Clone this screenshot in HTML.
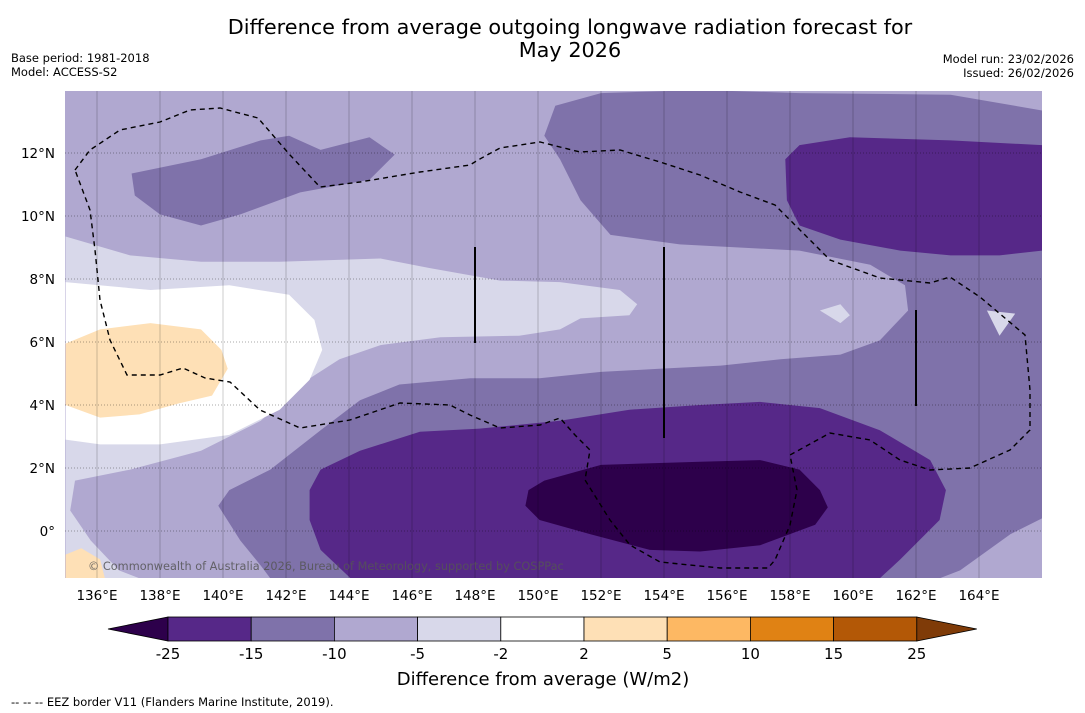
<!DOCTYPE html>
<html><head><meta charset="utf-8"><style>
body{margin:0;background:#fff;width:1085px;height:713px;overflow:hidden;font-family:"DejaVu Sans","Liberation Sans",sans-serif}
svg{position:absolute;left:0;top:0}
</style></head><body>
<svg id="c" width="1085" height="713" viewBox="0 0 1085 713">
<text x="570" y="34" text-anchor="middle" font-size="20.8">Difference from average outgoing longwave radiation forecast for</text>
<text x="570" y="57" text-anchor="middle" font-size="20.8">May 2026</text>
<text x="11" y="62" font-size="11.5">Base period: 1981-2018</text>
<text x="11" y="76" font-size="11.5">Model: ACCESS-S2</text>
<text x="1074" y="63" font-size="11.5" text-anchor="end">Model run: 23/02/2026</text>
<text x="1074" y="77" font-size="11.5" text-anchor="end">Issued: 26/02/2026</text>
<defs><clipPath id="mc"><rect x="65" y="91" width="977" height="487"/></clipPath></defs>
<g id="map" clip-path="url(#mc)"></g>
<g id="ax"></g>
<text x="543" y="685" text-anchor="middle" font-size="18">Difference from average (W/m2)</text>
<text x="11" y="706" font-size="11.5">--  --  -- EEZ border V11 (Flanders Marine Institute, 2019).</text>
</svg>
<script>
const NS='http://www.w3.org/2000/svg';
const levels=[-25,-15,-10,-5,-2,2,5,10,15,25];
const levelColors=['#562888','#7f72aa','#b0a8d0','#d8d8ea','#ffffff','#fee0b6','#fdb863','#e08214','#b35806'];
const underColor='#2d004b', overColor='#7f3b08';
const lonTicks=[136,138,140,142,144,146,148,150,152,154,156,158,160,162,164];
const latTicks=[0,2,4,6,8,10,12];
const regL1=[[135,9.35],[137.05,8.75],[139.3,8.55],[141.8,8.55],[145,8.65],[146.55,8.35],[148.8,7.95],[150.7,7.9],[152.6,7.65],[153.15,7.2],[152.9,6.85],[151.35,6.75],[150.7,6.4],[149.4,6.2],[146.9,6.15],[145,5.9],[143.7,5.45],[142.45,4.65],[141.2,3.5],[139.3,2.55],[137.05,1.95],[135.3,1.6],[135.15,0.65],[135.8,-0.3],[136.7,-1.25],[137.35,-1.5],[135,-1.5]];
const regWhite=[[135,7.9],[137.7,7.65],[140.2,7.8],[142.1,7.5],[142.9,6.7],[143.15,5.75],[142.75,4.8],[141.8,3.85],[140.2,3.05],[138,2.75],[136.1,2.75],[135,2.9]];
const regOrange=[[135,5.95],[136.1,6.4],[137.7,6.6],[139.3,6.4],[139.95,5.75],[140.15,5.15],[139.65,4.3],[138.6,4.05],[137.35,3.7],[136.1,3.6],[135,4.0]];
const regOrange2=[[135,-0.75],[135.5,-0.55],[136.1,-0.9],[136.25,-1.5],[135,-1.5]];
const regM1a=[[137.1,11.35],[139.3,11.8],[141.2,12.4],[142.1,12.55],[143.1,12.1],[144.65,12.5],[145.45,11.95],[144.65,11.15],[142.45,10.75],[140.55,10.05],[139.3,9.7],[138,10.05],[137.2,10.65]];
const regM1b=[[150.2,12.55],[150.55,13.5],[152,13.9],[155.15,14],[158.3,13.9],[163.1,13.85],[166,13.35],[166,0.4],[165,-0.1],[163.4,-1.25],[162.75,-1.5],[141.5,-1.5],[141.2,-1.1],[140.55,-0.3],[139.85,0.8],[140.2,1.3],[141.5,1.95],[143.1,3.2],[144.35,4.15],[145.6,4.65],[147.85,4.85],[150.05,4.85],[152,5.05],[153.85,5.15],[155.8,5.25],[157.7,5.45],[159.6,5.6],[160.85,6.05],[161.75,7.0],[161.65,7.8],[160.55,8.45],[158.3,8.9],[154.5,9.1],[152.3,9.4],[151.35,10.5],[150.7,11.8]];
const regL2a=[[158.95,7.0],[159.6,7.2],[159.9,6.85],[159.6,6.6]];
const regL2b=[[164.25,7.0],[165.15,6.9],[164.65,6.2]];
const regD1a=[[157.85,11.8],[158.3,12.25],[159.9,12.5],[163.1,12.4],[166,12.25],[166,8.9],[164.65,8.75],[163.1,8.75],[161.5,8.9],[159.6,9.25],[158.3,9.7],[157.9,10.5]];
const regD1b=[[142.75,1.3],[143.1,1.95],[144.35,2.55],[146.25,3.15],[148.15,3.25],[150.7,3.5],[152.9,3.85],[155.15,4.0],[157.05,4.1],[158.95,3.9],[160.85,3.2],[162.45,2.25],[162.95,1.3],[162.75,0.35],[161.5,-0.9],[160.85,-1.5],[144.05,-1.5],[143.1,-0.6],[142.75,0.35]];
const regU1=[[149.7,1.3],[150.2,1.6],[152,2.1],[155.15,2.2],[157.05,2.25],[158.3,1.95],[158.95,1.3],[159.2,0.75],[158.8,0.2],[157.05,-0.45],[155.15,-0.65],[153.55,-0.6],[151.65,-0.1],[150.05,0.35],[149.6,0.8]];
const regions=[[regL1,3],[regWhite,4],[regOrange,5],[regOrange2,5],[regM1a,1],[regM1b,1],[regL2a,3],[regL2b,3],[regD1a,0],[regD1b,0],[regU1,-1]];

const X0=97,PX=31.5,Y0=531;
const xs=lon=>X0+(lon-136)*PX;
const ys=lat=>Y0-lat*PX;
const map=document.getElementById('map'), ax=document.getElementById('ax');
function mk(tag,attrs,parent){const e=document.createElementNS(NS,tag);for(const k in attrs)e.setAttribute(k,attrs[k]);parent.appendChild(e);return e;}

let bg=mk('rect',{x:65,y:91,width:977,height:487,fill:levelColors[2]},map);


regions.forEach(([pts,ci],i)=>{
  const fill=ci<0?underColor:levelColors[ci];
  const d='M'+pts.map(p=>xs(p[0]).toFixed(1)+','+ys(p[1]).toFixed(1)).join('L')+'Z';
  const p=mk('path',{d:d,fill:fill},map);
  
  
});
lonTicks.forEach(l=>{const g=mk('line',{x1:xs(l),x2:xs(l),y1:91,y2:578,stroke:'#000','stroke-opacity':0.25,'stroke-width':0.8},map);

});
latTicks.forEach(l=>{const g=mk('line',{x1:65,x2:1042,y1:ys(l),y2:ys(l),stroke:'#000','stroke-opacity':0.45,'stroke-width':0.8,'stroke-dasharray':'1,2'},map);

});
let eez=mk('path',{d:'M75,170L90,150L120,130L160,122L190,110L220,108L258,118L290,155L320,187L360,182L420,172L470,165L478,160L500,148L540,142L580,152L620,150L660,162L700,175L740,192L775,205L800,230L830,260L880,278L930,283L950,277L980,297L1025,335L1030,390L1030,430L1010,450L970,468L930,470L900,460L870,440L830,433L790,455L797,490L790,525L775,560L768,568L720,568L660,562L630,545L610,520L585,480L590,450L575,435L560,418L540,425L500,428L470,415L450,405L400,403L350,420L300,428L260,410L230,382L205,378L183,368L160,375L127,375L110,340L100,300L95,250L90,210Z',fill:'none',stroke:'#000','stroke-width':1.4,'stroke-dasharray':'5,4'},map);


[[475,247,343],[664,247,438],[916,310,406]].forEach(v=>{const l=mk('line',{x1:v[0],x2:v[0],y1:v[1],y2:v[2],stroke:'#000','stroke-width':2},map);

});
let cp=mk('text',{x:88,y:570,'font-size':11.3,fill:'#555','fill-opacity':0.85},map);
cp.textContent='© Commonwealth of Australia 2026, Bureau of Meteorology, supported by COSPPac';


lonTicks.forEach(l=>{const t=mk('text',{x:xs(l),y:600,'text-anchor':'middle','font-size':13.5},ax);t.textContent=l+'°E';

});
latTicks.forEach(l=>{const t=mk('text',{x:55,y:ys(l)+5,'text-anchor':'end','font-size':13.5},ax);t.textContent=l===0?'0°':l+'°N';

});
const cb0=168,cbW=83.2,cbY=617,cbH=24;
const cbx=i=>cb0+i*cbW;
let tl=mk('polygon',{points:`108,${cbY+cbH/2} ${cb0},${cbY} ${cb0},${cbY+cbH}`,fill:underColor,stroke:'#000','stroke-width':0.8},ax);


levelColors.forEach((c,i)=>{const r=mk('rect',{x:cbx(i),y:cbY,width:cbW,height:cbH,fill:c,stroke:'#000','stroke-width':0.8},ax);

});
const e=cbx(levelColors.length);
let tr=mk('polygon',{points:`${e},${cbY} ${e+60},${cbY+cbH/2} ${e},${cbY+cbH}`,fill:overColor,stroke:'#000','stroke-width':0.8},ax);


levels.forEach((v,i)=>{const t=mk('text',{x:cbx(i),y:659,'text-anchor':'middle','font-size':15},ax);t.textContent=v;

});
</script>
</body></html>
